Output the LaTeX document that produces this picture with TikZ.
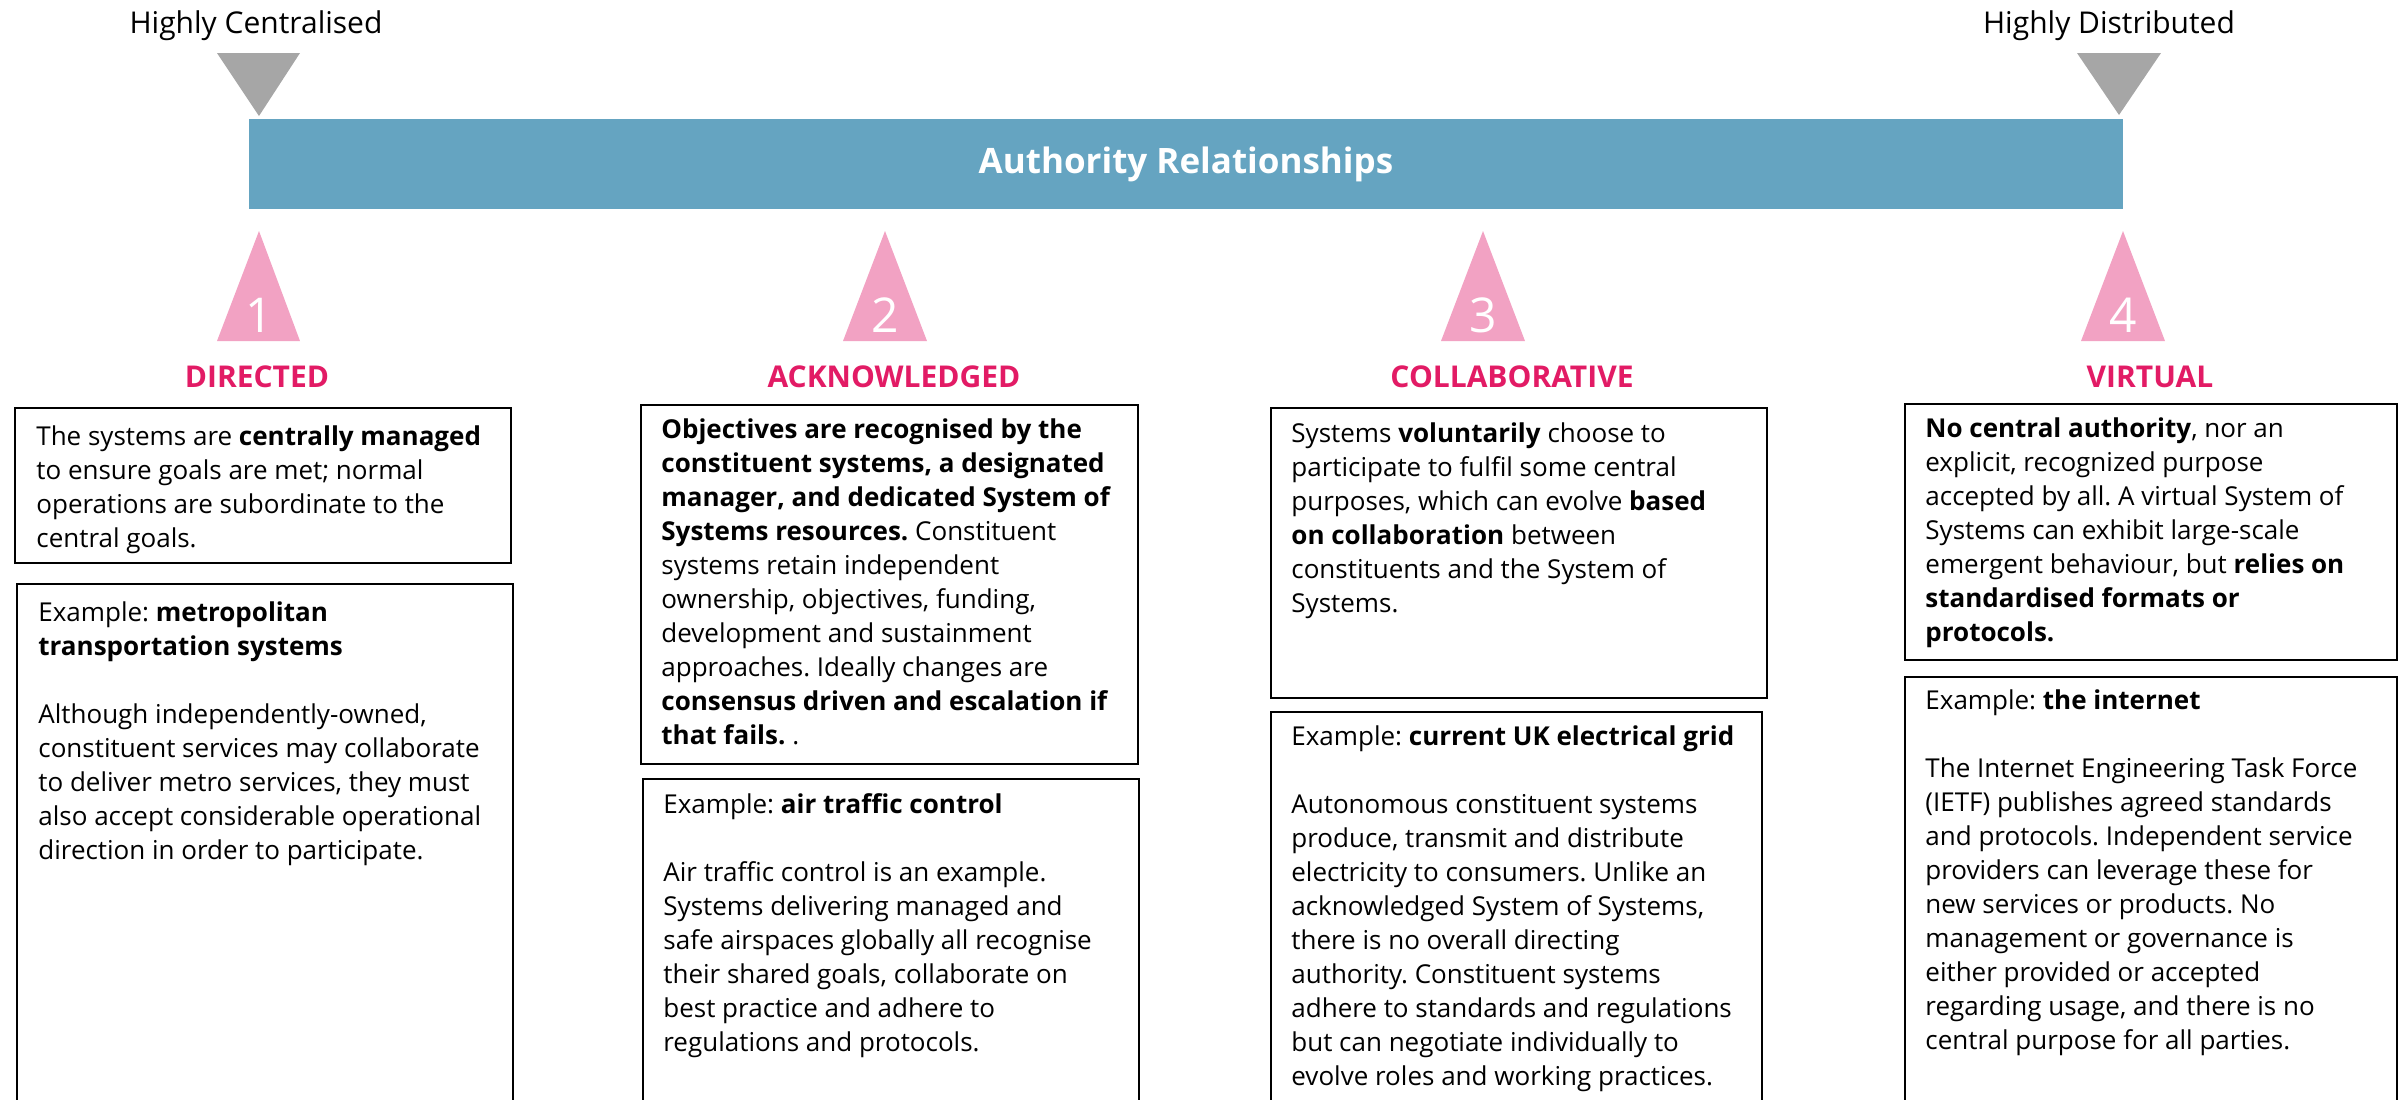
\documentclass[tikz,border=0pt]{standalone}
\usepackage{fontspec}
\setmainfont{Open Sans}
\usepackage{xcolor}
\frenchspacing
\definecolor{barblue}{RGB}{101,164,193}
\definecolor{markgray}{RGB}{166,166,166}
\definecolor{tripink}{RGB}{242,162,195}
\definecolor{headpink}{RGB}{226,27,101}
\tikzset{
  card/.style={draw=black, line width=1pt},
  cardtext/.style={anchor=base west, inner sep=0pt, align=left, font=\fontsize{13}{17}\selectfont},
  heading/.style={anchor=base, inner sep=0pt, text=headpink, font=\fontsize{15}{18}\selectfont\bfseries},
  endlabel/.style={anchor=base, inner sep=0pt, font=\fontsize{15}{18}\selectfont},
  digit/.style={anchor=base, inner sep=0pt, text=white, font=\fontsize{24}{24}\selectfont},
  bar/.style={fill=barblue, text=white, inner sep=0pt, minimum width=937pt, minimum height=45pt, font=\fontsize{17.5}{20}\selectfont\bfseries}
}

\begin{document}
\begin{tikzpicture}[x=0.5pt, y=-0.5pt]
		\useasboundingbox (0,0) rectangle (2405,1099);
		\clip (0,0) rectangle (2405,1099);

		\node[endlabel] (central) at (256,33) {Highly Centralised};
		\node[endlabel] (distrib) at (2109,33) {Highly Distributed};
		\fill[markgray] (217,53) -- (300,53) -- (259,116) -- cycle;
		\fill[markgray] (2077,53) -- (2161,53) -- (2119,115) -- cycle;

		\node[bar] (authority) at (1186,164) {Authority Relationships};

		\fill[tripink] (259,231) -- (300,341) -- (217,341) -- cycle;
		\fill[tripink] (885,231) -- (927,341) -- (843,341) -- cycle;
		\fill[tripink] (1483,231) -- (1525,341) -- (1441,341) -- cycle;
		\fill[tripink] (2123,231) -- (2165,341) -- (2081,341) -- cycle;
		\node[digit] (n1) at (259,332) {1};
		\node[digit] (n2) at (885,332) {2};
		\node[digit] (n3) at (1483,332) {3};
		\node[digit] (n4) at (2123,332) {4};

		\node[heading] (directed) at (257,387) {DIRECTED};
		\node[heading] (acknowledged) at (894,387) {ACKNOWLEDGED};
		\node[heading] (collaborative) at (1512,387) {COLLABORATIVE};
		\node[heading] (virtual) at (2150,387) {VIRTUAL};

		\draw[card] (15,408) rectangle (511,563);
		\draw[card] (17,584) rectangle (513,1130);
		\draw[card] (641,405) rectangle (1138,764);
		\draw[card] (643,779) rectangle (1139,1130);
		\draw[card] (1271,408) rectangle (1767,698);
		\draw[card] (1271,712) rectangle (1762,1130);
		\draw[card] (1905,404) rectangle (2397,660);
		\draw[card] (1905,677) rectangle (2397,1130);

		% base anchor sits on the last line of each block
		\node[cardtext] (d1) at (36,547) {The systems are \textbf{centrally managed}\\
			to ensure goals are met; normal\\
			operations are subordinate to the\\
			central goals.};
		\node[cardtext] (e1) at (38,859) {Example: \textbf{metropolitan}\\
			\textbf{transportation systems}\\[17pt]
			Although independently-owned,\\
			constituent services may collaborate\\
			to deliver metro services, they must\\
			also accept considerable operational\\
			direction in order to participate.};

		\node[cardtext] (d2) at (661,744) {\textbf{Objectives are recognised by the}\\
			\textbf{constituent systems, a designated}\\
			\textbf{manager, and dedicated System of}\\
			\textbf{Systems resources.} Constituent\\
			systems retain independent\\
			ownership, objectives, funding,\\
			development and sustainment\\
			approaches. Ideally changes are\\
			\textbf{consensus driven and escalation if}\\
			\textbf{that fails.} .};
		\node[cardtext] (e2) at (663,1051) {Example: \textbf{air traffic control}\\[17pt]
			Air traffic control is an example.\\
			Systems delivering managed and\\
			safe airspaces globally all recognise\\
			their shared goals, collaborate on\\
			best practice and adhere to\\
			regulations and protocols.};

		\node[cardtext] (d3) at (1291,612) {Systems \textbf{voluntarily} choose to\\
			participate to fulfil some central\\
			purposes, which can evolve \textbf{based}\\
			\textbf{on collaboration} between\\
			constituents and the System of\\
			Systems.};
		\node[cardtext] (e3) at (1291,1085) {Example: \textbf{current UK electrical grid}\\[17pt]
			Autonomous constituent systems\\
			produce, transmit and distribute\\
			electricity to consumers. Unlike an\\
			acknowledged System of Systems,\\
			there is no overall directing\\
			authority. Constituent systems\\
			adhere to standards and regulations\\
			but can negotiate individually to\\
			evolve roles and working practices.};

		\node[cardtext] (d4) at (1925,641) {\textbf{No central authority}, nor an\\
			explicit, recognized purpose\\
			accepted by all. A virtual System of\\
			Systems can exhibit large-scale\\
			emergent behaviour, but \textbf{relies on}\\
			\textbf{standardised formats or}\\
			\textbf{protocols.}};
		\node[cardtext] (e4) at (1925,1049) {Example: \textbf{the internet}\\[17pt]
			The Internet Engineering Task Force\\
			(IETF) publishes agreed standards\\
			and protocols. Independent service\\
			providers can leverage these for\\
			new services or products. No\\
			management or governance is\\
			either provided or accepted\\
			regarding usage, and there is no\\
			central purpose for all parties.};
	\end{tikzpicture}
\end{document}
